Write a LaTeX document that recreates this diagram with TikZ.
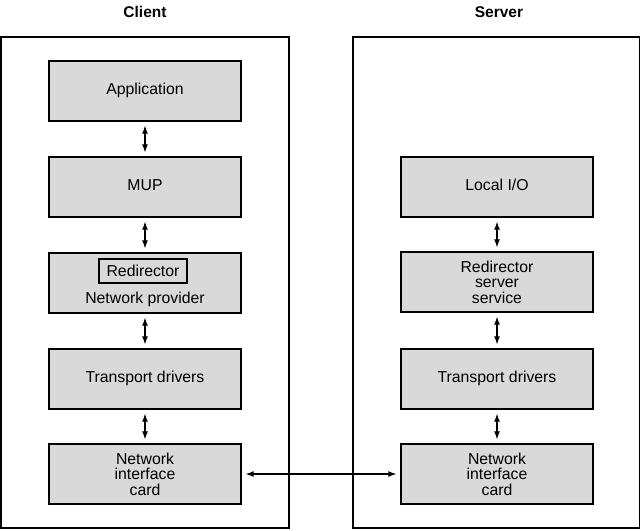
\documentclass[tikz,border=0pt]{standalone}
\usepackage{fontspec}
\setmainfont{Liberation Sans}
\usetikzlibrary{arrows.meta}
\begin{document}
\begin{tikzpicture}[x=1pt,y=-1pt,
  outerbox/.style={draw, line width=1.6pt},
  layer/.style={draw, line width=1.4pt, fill=black!15, minimum width=192pt, minimum height=60pt, inner sep=0pt, align=center, font=\fontsize{15.8}{15.6}\selectfont},
  oneline/.style={text height=11.5pt, text depth=5.5pt},
  smallbox/.style={draw, line width=1.4pt, minimum width=88pt, minimum height=24pt, inner sep=0pt, font=\fontsize{15.8}{15.6}\selectfont},
  title/.style={font=\bfseries\fontsize{15.5}{16}\selectfont},
  link/.style={{Latex[length=8pt,width=6pt]}-{Latex[length=8pt,width=6pt]}, line width=1.1pt, shorten >=4pt, shorten <=4pt}
]
\useasboundingbox (0,0) rectangle (642,530);
% outer frames
\draw[outerbox] (1,37) rectangle (289,528);
\draw[outerbox] (353,37) rectangle (639.5,528);
\node[title] (client) at (145,12) {Client};
\node[title] (server) at (499,12) {Server};
% client stack
\node[layer,oneline] (app) at (145,91) {Application};
\node[layer,oneline] (mup) at (145,187) {MUP};
\node[layer] (np) at (145,283) {};
\node[smallbox] (redir) at (143,271) {Redirector};
\node[font=\fontsize{15.8}{15.6}\selectfont] (nptext) at (145,299) {Network provider};
\node[layer,oneline] (ctd) at (145,379) {Transport drivers};
\node[layer] (cnic) at (145,474) {Network\\interface\\card};
% server stack
\node[layer,oneline] (lio) at (497,187) {Local I/O};
\node[layer] (rss) at (497,282) {Redirector\\server\\service};
\node[layer,oneline] (std) at (497,379) {Transport drivers};
\node[layer] (snic) at (497,474) {Network\\interface\\card};
% connectors
\draw[link] (app) -- (mup);
\draw[link] (mup) -- (np);
\draw[link] (np) -- (ctd);
\draw[link] (ctd) -- (cnic);
\draw[link] (lio) -- (rss);
\draw[link] (rss) -- (std);
\draw[link] (std) -- (snic);
\draw[link] (cnic) -- (snic);
\end{tikzpicture}
\end{document}
